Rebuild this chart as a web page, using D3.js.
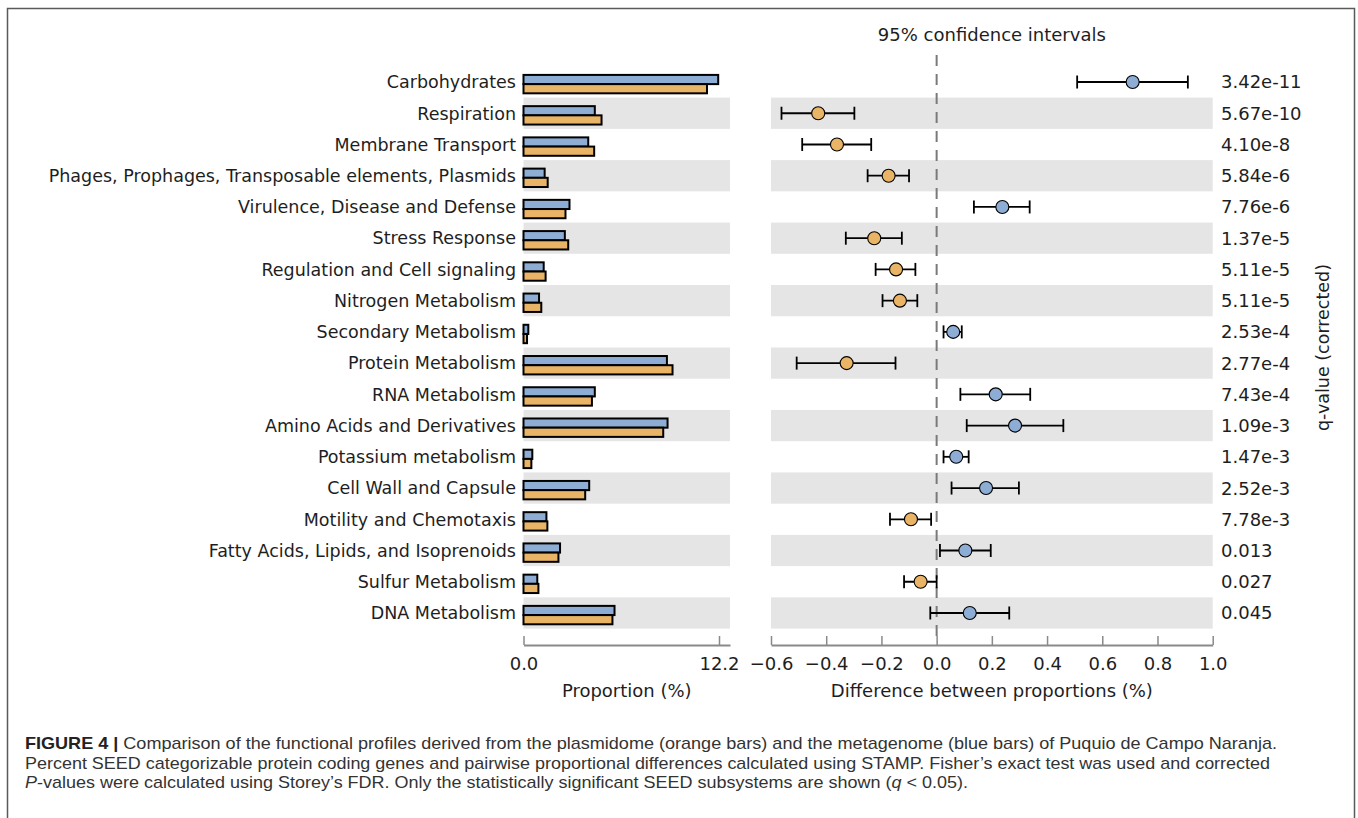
<!DOCTYPE html>
<html>
<head>
<meta charset="utf-8">
<script src="https://cdn.jsdelivr.net/npm/d3@7"></script>
<style>
  html, body { margin: 0; padding: 0; background: #fff; }
  svg { display: block; }
</style>
</head>
<body>
<svg id="chart" width="1358" height="818"></svg>
<script>
// SEED subsystem categories, top to bottom
const categories = [
  "Carbohydrates",
  "Respiration",
  "Membrane Transport",
  "Phages, Prophages, Transposable elements, Plasmids",
  "Virulence, Disease and Defense",
  "Stress Response",
  "Regulation and Cell signaling",
  "Nitrogen Metabolism",
  "Secondary Metabolism",
  "Protein Metabolism",
  "RNA Metabolism",
  "Amino Acids and Derivatives",
  "Potassium metabolism",
  "Cell Wall and Capsule",
  "Motility and Chemotaxis",
  "Fatty Acids, Lipids, and Isoprenoids",
  "Sulfur Metabolism",
  "DNA Metabolism"
];

// Proportion (%) in the metagenome (blue) and the plasmidome (orange)
const metagenome = [12.15, 4.45, 4.04, 1.32, 2.87, 2.58, 1.26, 0.97, 0.30, 8.95, 4.45, 8.99, 0.55, 4.10, 1.43, 2.28, 0.86, 5.68];
const plasmidome = [11.45, 4.87, 4.41, 1.51, 2.62, 2.79, 1.38, 1.11, 0.22, 9.30, 4.27, 8.72, 0.49, 3.85, 1.49, 2.18, 0.93, 5.55];

// Difference between proportions (%) with 95% confidence interval
const diffMean  = [0.710, -0.429, -0.361, -0.174, 0.238, -0.226, -0.147, -0.133, 0.060, -0.326, 0.214, 0.284, 0.071, 0.179, -0.093, 0.104, -0.058, 0.120];
const diffLower = [0.509, -0.562, -0.487, -0.250, 0.135, -0.329, -0.221, -0.196, 0.025, -0.507, 0.086, 0.109, 0.025, 0.054, -0.169, 0.012, -0.118, -0.023];
const diffUpper = [0.910, -0.298, -0.237, -0.100, 0.337, -0.126, -0.077, -0.070, 0.091, -0.149, 0.339, 0.459, 0.116, 0.298, -0.020, 0.196, 0.000, 0.263];

// Corrected q-values
const qValues = ["3.42e-11", "5.67e-10", "4.10e-8", "5.84e-6", "7.76e-6", "1.37e-5", "5.11e-5", "5.11e-5", "2.53e-4", "2.77e-4", "7.43e-4", "1.09e-3", "1.47e-3", "2.52e-3", "7.78e-3", "0.013", "0.027", "0.045"];

// Axis tick values
const propTicks = [0, 12.2];
const diffTicks = [-0.6, -0.4, -0.2, 0.0, 0.2, 0.4, 0.6, 0.8, 1.0];

const BLUE = "#8dadd4";
const ORANGE = "#eab466";
const BAND = "#e5e5e5";
const AXIS = "#8a8a8a";
const TEXT = "#1e1e1e";
const FONT = "'DejaVu Sans', sans-serif";
const FS = 18;

const svg = d3.select("#chart");

const rows = categories.map((c, i) => ({
  name: c, i, meta: metagenome[i], plas: plasmidome[i],
  mean: diffMean[i], lo: diffLower[i], hi: diffUpper[i], q: qValues[i]
}));

// Shared row scale
const y = d3.scaleBand().domain(categories).range([66.4, 628.6]).paddingInner(0).paddingOuter(0);
const yc = d => y(d.name) + y.bandwidth() / 2;

// Scales for the two panels
const xProp = d3.scaleLinear().domain([0, 12.2]).range([523.5, 719]);
const xDiff = d3.scaleLinear().domain([-0.6, 1.0]).range([771, 1212.7]);
const propRight = 730;
const axisY = 645;

// Figure frame
svg.append("rect")
  .attr("x", 7.5).attr("y", 8.5).attr("width", 1347).attr("height", 830)
  .attr("fill", "none").attr("stroke", "#5a5a5a").attr("stroke-width", 1.5);

// Alternating row bands
const banded = rows.filter(d => d.i % 2 === 1);
svg.append("g").selectAll("rect").data(banded).join("rect")
  .attr("x", xProp(0)).attr("width", propRight - xProp(0))
  .attr("y", d => y(d.name)).attr("height", y.bandwidth())
  .attr("fill", BAND);
svg.append("g").selectAll("rect").data(banded).join("rect")
  .attr("x", xDiff(-0.6)).attr("width", xDiff(1.0) - xDiff(-0.6))
  .attr("y", d => y(d.name)).attr("height", y.bandwidth())
  .attr("fill", BAND);

// Proportion bars
const barH = 9.2;
const bars = svg.append("g").attr("stroke", "#000").attr("stroke-width", 2);
bars.selectAll("rect.meta").data(rows).join("rect")
  .attr("class", "meta")
  .attr("x", xProp(0)).attr("width", d => xProp(d.meta) - xProp(0))
  .attr("y", d => yc(d) - 7.1).attr("height", barH)
  .attr("fill", BLUE);
bars.selectAll("rect.plas").data(rows).join("rect")
  .attr("class", "plas")
  .attr("x", xProp(0)).attr("width", d => xProp(d.plas) - xProp(0))
  .attr("y", d => yc(d) + 2.1).attr("height", barH)
  .attr("fill", ORANGE);

// Category labels
svg.append("g").selectAll("text").data(rows).join("text")
  .attr("x", 516).attr("y", d => yc(d))
  .attr("dy", "0.36em")
  .attr("text-anchor", "end")
  .attr("font-family", FONT).attr("font-size", 17.5).attr("fill", TEXT)
  .text(d => d.name);

// Zero reference line
svg.append("line")
  .attr("x1", xDiff(0)).attr("x2", xDiff(0))
  .attr("y1", 55).attr("y2", 640)
  .attr("stroke", "#7a7a7a").attr("stroke-width", 2)
  .attr("stroke-dasharray", "11,8");

// Confidence intervals
const capH = 6.5;
const ci = svg.append("g").attr("stroke", "#000").attr("stroke-width", 1.8);
ci.selectAll("line.span").data(rows).join("line")
  .attr("class", "span")
  .attr("x1", d => xDiff(d.lo)).attr("x2", d => xDiff(d.hi))
  .attr("y1", d => yc(d)).attr("y2", d => yc(d));
ci.selectAll("line.lo").data(rows).join("line")
  .attr("class", "lo")
  .attr("x1", d => xDiff(d.lo)).attr("x2", d => xDiff(d.lo))
  .attr("y1", d => yc(d) - capH).attr("y2", d => yc(d) + capH);
ci.selectAll("line.hi").data(rows).join("line")
  .attr("class", "hi")
  .attr("x1", d => xDiff(d.hi)).attr("x2", d => xDiff(d.hi))
  .attr("y1", d => yc(d) - capH).attr("y2", d => yc(d) + capH);

svg.append("g").selectAll("circle").data(rows).join("circle")
  .attr("cx", d => xDiff(d.mean)).attr("cy", d => yc(d))
  .attr("r", 6.5)
  .attr("fill", d => d.mean >= 0 ? BLUE : ORANGE)
  .attr("stroke", "#000").attr("stroke-width", 1.1);

// q-values
svg.append("g").selectAll("text").data(rows).join("text")
  .attr("x", 1221).attr("y", d => yc(d))
  .attr("dy", "0.36em")
  .attr("font-family", FONT).attr("font-size", FS).attr("fill", TEXT)
  .text(d => d.q);

svg.append("text")
  .attr("transform", `translate(1329,${(66.4 + 628.6) / 2}) rotate(-90)`)
  .attr("text-anchor", "middle")
  .attr("font-family", FONT).attr("font-size", 17.5).attr("fill", TEXT)
  .text("q-value (corrected)");

// Axes
function styleAxis(g) {
  g.select(".domain").attr("stroke", AXIS).attr("stroke-width", 2);
  g.selectAll(".tick line").attr("stroke", AXIS).attr("stroke-width", 1.5);
  g.selectAll(".tick text")
    .attr("font-family", FONT).attr("font-size", FS).attr("fill", TEXT);
}

const propAxisScale = xProp.copy().domain([0, 12.2 * (propRight - 523.5) / (719 - 523.5)]).range([523.5, propRight]);
svg.append("g")
  .attr("transform", `translate(0,${axisY})`)
  .call(d3.axisBottom(propAxisScale).tickValues(propTicks).tickSizeInner(-9).tickSizeOuter(0).tickPadding(12)
    .tickFormat(d3.format(".1f")))
  .call(styleAxis);

svg.append("g")
  .attr("transform", `translate(0,${axisY})`)
  .call(d3.axisBottom(xDiff).tickValues(diffTicks).tickSizeInner(-9).tickSizeOuter(0).tickPadding(12)
    .tickFormat(d => d3.format(".1f")(d).replace("-", "\u2212")))
  .call(styleAxis);

// Titles
svg.append("text")
  .attr("x", (xDiff(-0.6) + xDiff(1.0)) / 2).attr("y", 41)
  .attr("text-anchor", "middle")
  .attr("font-family", FONT).attr("font-size", FS).attr("fill", TEXT)
  .text("95% confidence intervals");

svg.append("text")
  .attr("x", (xProp(0) + propRight) / 2).attr("y", 697)
  .attr("text-anchor", "middle")
  .attr("font-family", FONT).attr("font-size", FS).attr("fill", TEXT)
  .text("Proportion (%)");

svg.append("text")
  .attr("x", (xDiff(-0.6) + xDiff(1.0)) / 2).attr("y", 697)
  .attr("text-anchor", "middle")
  .attr("font-family", FONT).attr("font-size", FS).attr("fill", TEXT)
  .text("Difference between proportions (%)");

// Caption, each line fitted to its column width
const CAP_FONT = "'Liberation Sans', Arial, sans-serif";
const cap = svg.append("g")
  .attr("font-family", CAP_FONT).attr("font-size", 16.2).attr("fill", "#333");

const l1 = cap.append("text").attr("x", 25).attr("y", 749)
  .attr("textLength", 1252).attr("lengthAdjust", "spacingAndGlyphs");
l1.append("tspan").attr("font-weight", "bold").attr("fill", "#222").text("FIGURE 4 | ");
l1.append("tspan").text("Comparison of the functional profiles derived from the plasmidome (orange bars) and the metagenome (blue bars) of Puquio de Campo Naranja.");

cap.append("text").attr("x", 25).attr("y", 769)
  .attr("textLength", 1245).attr("lengthAdjust", "spacingAndGlyphs")
  .text("Percent SEED categorizable protein coding genes and pairwise proportional differences calculated using STAMP. Fisher\u2019s exact test was used and corrected");

const l3 = cap.append("text").attr("x", 25).attr("y", 788)
  .attr("textLength", 943).attr("lengthAdjust", "spacingAndGlyphs");
l3.append("tspan").attr("font-style", "italic").text("P");
l3.append("tspan").text("-values were calculated using Storey\u2019s FDR. Only the statistically significant SEED subsystems are shown (");
l3.append("tspan").attr("font-style", "italic").text("q");
l3.append("tspan").text(" < 0.05).");
</script>
</body>
</html>
